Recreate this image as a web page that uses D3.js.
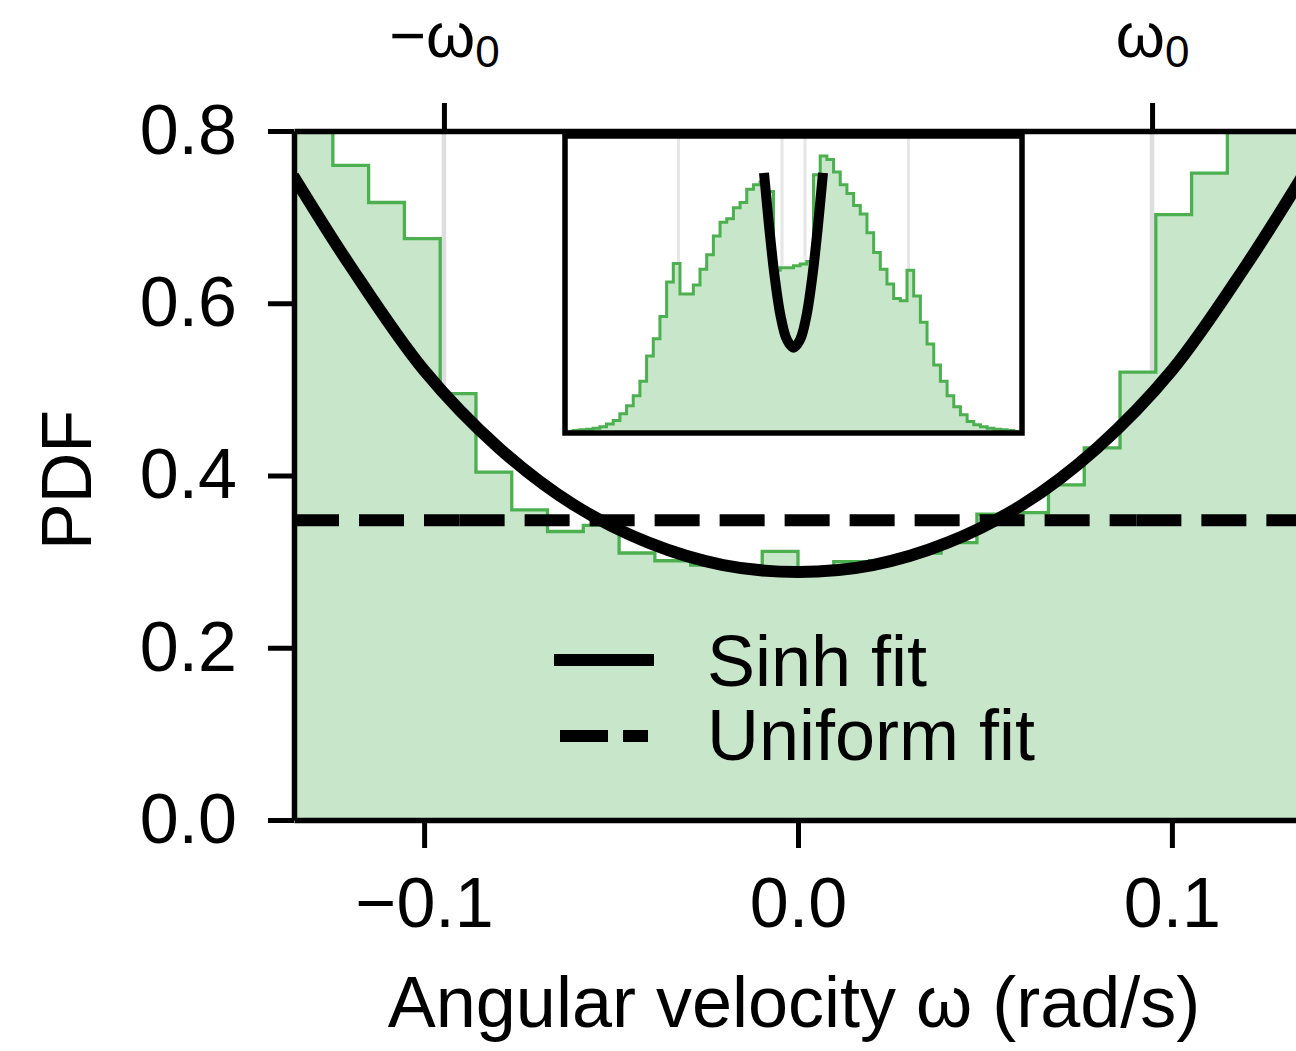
<!DOCTYPE html>
<html lang="en">
<head>
<meta charset="UTF-8">
<title>Angular velocity PDF</title>
<script src="https://d3js.org/d3.v7.min.js"></script>
<style>
  body { margin: 0; background: #fff; }
  svg text { font-family: "Liberation Sans", Arial, Helvetica, sans-serif; fill: #000; }
</style>
</head>
<body>
<div class="chart"></div>
<script>
// ---- data ----
const omega0 = 0.0947
const mainBinWidth = 0.00957
const mainFirstBin = -15
const mainPdf = [0.90, 0.85, 0.760, 0.717, 0.675, 0.495, 0.404, 0.360, 0.335, 0.342,
  0.310, 0.301, 0.296, 0.291, 0.312, 0.290, 0.300, 0.301, 0.310, 0.322,
  0.355, 0.357, 0.389, 0.432, 0.520, 0.703, 0.751, 0.85, 0.90]
const sinhOmega = [-0.135, -0.12, -0.10, -0.08, -0.06, -0.04, -0.02, 0, 0.02, 0.04, 0.06, 0.08, 0.10, 0.12, 0.135]
const sinhPdf = [0.748, 0.645, 0.522, 0.432, 0.366, 0.322, 0.296, 0.288, 0.296, 0.322, 0.366, 0.432, 0.522, 0.645, 0.748]
const uniformPdf = 0.348
const uniformPieces = [[-0.1348, -0.0905], [-0.0905, 0.0905], [0.0905, 0.1348]]
const xTicks = [-0.1, 0.0, 0.1]
const yTicks = [0.0, 0.2, 0.4, 0.6, 0.8]
const topTickLabels = ['−ω', 'ω']
const legendLabels = ['Sinh fit', 'Uniform fit']

// inset: full distribution
const insetBinWidth = 0.055
const insetFirstBin = -34
const insetPdf = [0.002, 0.005, 0.007, 0.008, 0.010, 0.013, 0.019, 0.026, 0.040, 0.057,
  0.078, 0.108, 0.161, 0.197, 0.243, 0.315, 0.354, 0.290, 0.290, 0.309,
  0.342, 0.372, 0.411, 0.440, 0.447, 0.470, 0.481, 0.509, 0.518, 0.524,
  0.504, 0.340, 0.345, 0.345, 0.349, 0.353, 0.358, 0.539, 0.578, 0.571,
  0.545, 0.518, 0.500, 0.475, 0.457, 0.418, 0.377, 0.342, 0.311, 0.281,
  0.276, 0.340, 0.286, 0.231, 0.186, 0.142, 0.108, 0.078, 0.055, 0.038,
  0.024, 0.017, 0.013, 0.010, 0.008, 0.007, 0.005, 0.002]
const insetGuides = [-0.947, -0.0947, 0.0947, 0.947]
const insetFitOmega = [-0.243, -0.198, -0.157, -0.107, -0.055, 0, 0.055, 0.107, 0.157, 0.198, 0.243]
const insetFitPdf = [0.543, 0.424, 0.330, 0.245, 0.195, 0.178, 0.195, 0.245, 0.330, 0.424, 0.543]

// ---- layout ----
const W = 1296, H = 1051
const fs = 70, fsBig = 72
const green = '#4caf50', greenFill = '#c8e6c9', grid = '#dedede'

const svg = d3.select('.chart').append('svg').attr('width', W).attr('height', H)
svg.append('rect').attr('width', W).attr('height', H).attr('fill', '#fff')

const x = d3.scaleLinear().domain([-0.1348, 0.1348]).range([294, 1302])
const y = d3.scaleLinear().domain([0, 0.8]).range([820, 131])

svg.append('clipPath').attr('id', 'plotclip').append('rect')
  .attr('x', x.range()[0]).attr('y', y.range()[1])
  .attr('width', x.range()[1] - x.range()[0]).attr('height', y.range()[0] - y.range()[1])

const plot = svg.append('g').attr('clip-path', 'url(#plotclip)')

// guides at +-omega0
plot.selectAll('line.guide').data([-omega0, omega0]).enter().append('line')
  .attr('x1', d => x(d)).attr('x2', d => x(d))
  .attr('y1', y.range()[0]).attr('y2', y.range()[1])
  .attr('stroke', grid).attr('stroke-width', 4.5)

function stepPoints(vals, first, width) {
  let pts = vals.map((v, i) => [(first + i) * width, v])
  pts.push([(first + vals.length) * width, vals[vals.length - 1]])
  return pts
}

const mainPts = stepPoints(mainPdf, mainFirstBin, mainBinWidth)
plot.append('path').datum(mainPts)
  .attr('d', d3.area().x(d => x(d[0])).y0(y(0)).y1(d => y(d[1])).curve(d3.curveStepAfter))
  .attr('fill', greenFill)
plot.append('path').datum(mainPts)
  .attr('d', d3.line().x(d => x(d[0])).y(d => y(d[1])).curve(d3.curveStepAfter))
  .attr('fill', 'none').attr('stroke', green).attr('stroke-width', 3.3)

// uniform fit (dashed)
plot.selectAll('line.uni').data(uniformPieces).enter().append('line')
  .attr('x1', d => x(d[0])).attr('x2', d => x(d[1]))
  .attr('y1', y(uniformPdf)).attr('y2', y(uniformPdf))
  .attr('stroke', '#000').attr('stroke-width', 12).attr('stroke-dasharray', '45,20')

// sinh fit
plot.append('path').datum(sinhOmega.map((o, i) => [o, sinhPdf[i]]))
  .attr('d', d3.line().x(d => x(d[0])).y(d => y(d[1])).curve(d3.curveCatmullRom))
  .attr('fill', 'none').attr('stroke', '#000').attr('stroke-width', 12)

// legend
const lg = svg.append('g')
lg.append('line').attr('x1', 554).attr('x2', 654).attr('y1', 660).attr('y2', 660)
  .attr('stroke', '#000').attr('stroke-width', 12)
lg.append('line').attr('x1', 560).attr('x2', 648).attr('y1', 736).attr('y2', 736)
  .attr('stroke', '#000').attr('stroke-width', 12).attr('stroke-dasharray', '48,15')
lg.selectAll('text').data(legendLabels).enter().append('text')
  .attr('x', 707).attr('y', (d, i) => 686 + i * 74)
  .attr('font-size', fsBig).text(d => d)

// ---- inset ----
const ix = d3.scaleLinear().domain([-1.882, 1.882]).range([565, 1022])
const iy = d3.scaleLinear().domain([0, 0.62]).range([433, 136])
svg.append('clipPath').attr('id', 'insetclip').append('rect')
  .attr('x', 565).attr('y', 136).attr('width', 457).attr('height', 297)
const inset = svg.append('g')
inset.append('rect').attr('x', 565).attr('y', 136).attr('width', 457).attr('height', 297).attr('fill', '#fff')
const ig = inset.append('g').attr('clip-path', 'url(#insetclip)')
ig.selectAll('line').data(insetGuides).enter().append('line')
  .attr('x1', d => ix(d)).attr('x2', d => ix(d))
  .attr('y1', iy(0)).attr('y2', iy(0.62))
  .attr('stroke', '#e6e6e6').attr('stroke-width', 3)
const insetPts = stepPoints(insetPdf, insetFirstBin, insetBinWidth)
ig.append('path').datum(insetPts)
  .attr('d', d3.area().x(d => ix(d[0])).y0(iy(0)).y1(d => iy(d[1])).curve(d3.curveStepAfter))
  .attr('fill', greenFill)
ig.append('path').datum(insetPts)
  .attr('d', d3.line().x(d => ix(d[0])).y(d => iy(d[1])).curve(d3.curveStepAfter))
  .attr('fill', 'none').attr('stroke', green).attr('stroke-width', 3)
ig.append('path').datum(insetFitOmega.map((o, i) => [o, insetFitPdf[i]]))
  .attr('d', d3.line().x(d => ix(d[0])).y(d => iy(d[1])).curve(d3.curveCatmullRom))
  .attr('fill', 'none').attr('stroke', '#000').attr('stroke-width', 10)
inset.append('rect').attr('x', 565).attr('y', 136).attr('width', 457).attr('height', 297)
  .attr('fill', 'none').attr('stroke', '#000').attr('stroke-width', 5.5)

// ---- axes ----
function styleAxis(g) {
  g.select('.domain').attr('stroke', '#000').attr('stroke-width', 5.5)
  g.selectAll('.tick line').attr('stroke', '#000').attr('stroke-width', 5)
  g.selectAll('.tick text').attr('font-size', fs).attr('font-family', '"Liberation Sans", Arial, sans-serif')
}

const xAxis = d3.axisBottom(x).tickValues(xTicks).tickSize(28).tickPadding(29).tickSizeOuter(0)
  .tickFormat(d => d3.format('.1f')(d).replace('-', '−'))
svg.append('g').attr('transform', 'translate(0,' + y(0) + ')').call(xAxis).call(styleAxis)

const yAxis = d3.axisLeft(y).tickValues(yTicks).tickSize(26).tickPadding(31).tickSizeOuter(0)
  .tickFormat(d3.format('.1f'))
svg.append('g').attr('transform', 'translate(' + x.range()[0] + ',0)').call(yAxis).call(styleAxis)

const topAxis = d3.axisTop(x).tickValues([-omega0, omega0]).tickSize(28).tickPadding(46).tickSizeOuter(0)
  .tickFormat('')
const tg = svg.append('g').attr('transform', 'translate(0,' + y(0.8) + ')').call(topAxis).call(styleAxis)
tg.selectAll('.tick text').each(function (d, i) {
  const t = d3.select(this).text(null).attr('font-size', 63).attr('dy', 0)
  t.append('tspan').text(topTickLabels[i])
  t.append('tspan').attr('font-size', 44).attr('dy', 10).text('0')
})

// axis titles
svg.append('text').attr('x', 794).attr('y', 1027).attr('text-anchor', 'middle')
  .attr('font-size', fsBig).text('Angular velocity ω (rad/s)')
svg.append('text').attr('transform', 'translate(91,480) rotate(-90)').attr('text-anchor', 'middle')
  .attr('font-size', fs).text('PDF')
</script>
</body>
</html>
